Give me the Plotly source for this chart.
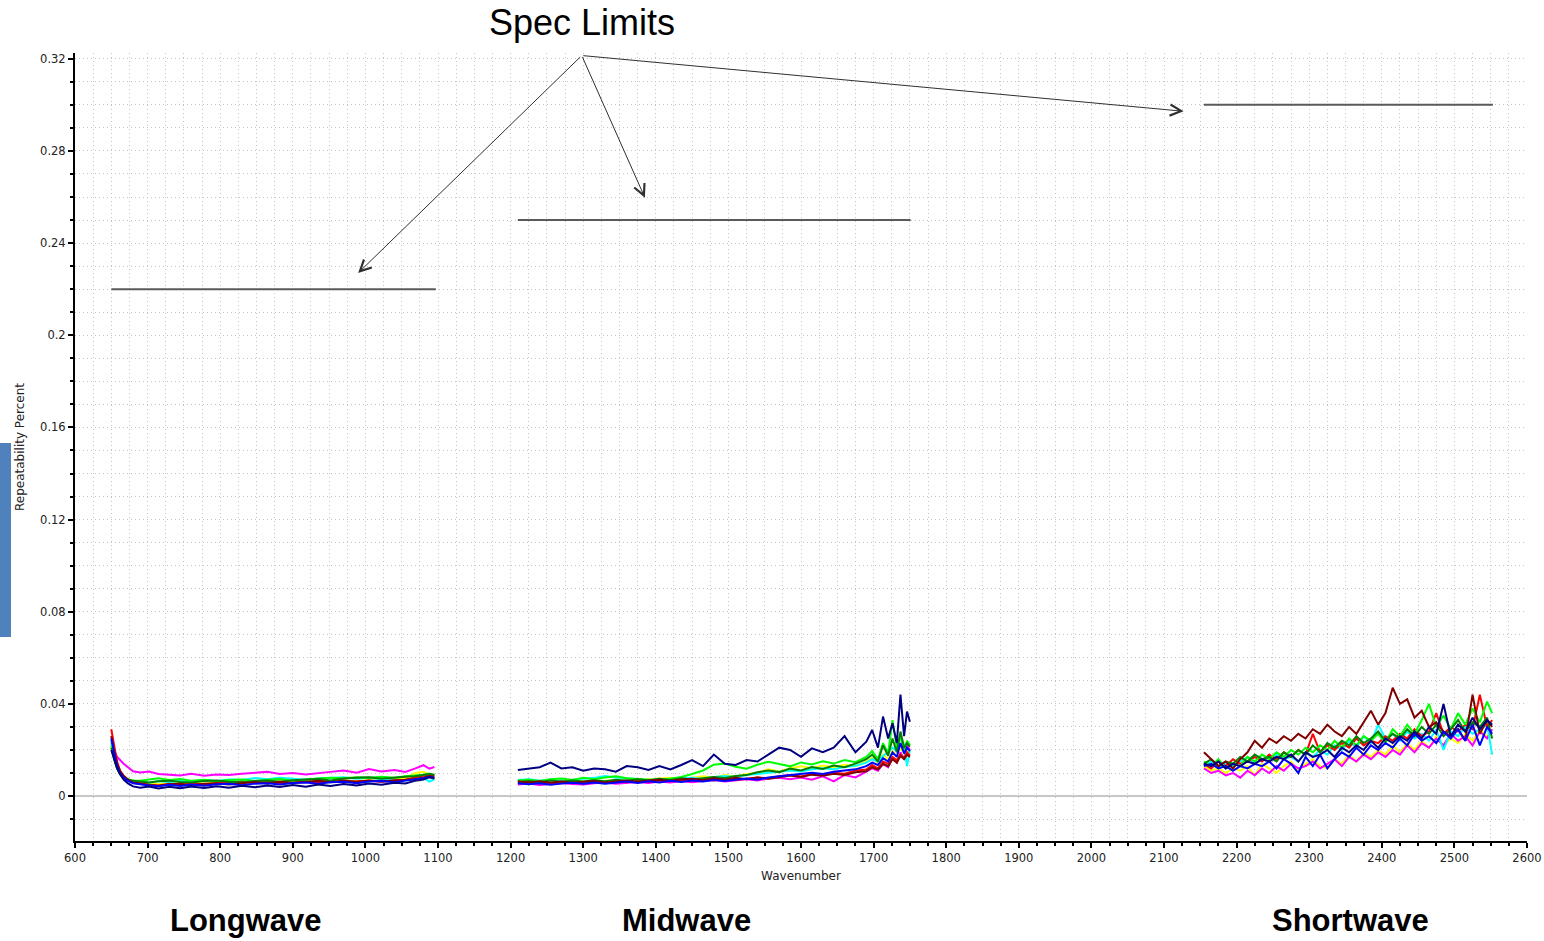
import plotly.graph_objects as go

# ---------------- data ----------------
LW_X = [650, 652, 655, 658, 662, 667, 673, 680, 690, 702, 715, 730, 745, 760, 778, 795, 812, 830,
        848, 865, 882, 900, 918, 935, 952, 970, 988, 1005, 1022, 1040, 1055, 1068, 1080, 1088, 1095]
MW_X = [1210, 1225, 1240, 1255, 1270, 1285, 1300, 1315, 1330, 1345, 1360, 1375, 1390, 1405, 1420,
        1435, 1450, 1465, 1480, 1495, 1510, 1525, 1540, 1555, 1570, 1585, 1600, 1615, 1630, 1645,
        1660, 1675, 1690, 1698, 1706, 1713, 1720, 1726, 1732, 1737, 1742, 1746, 1750]
SW_X = [2155, 2165, 2175, 2185, 2195, 2205, 2215, 2225, 2235, 2245, 2255, 2265, 2275, 2285, 2295,
        2305, 2315, 2325, 2335, 2345, 2355, 2365, 2375, 2385, 2395, 2405, 2415, 2425, 2435, 2445,
        2455, 2465, 2475, 2485, 2495, 2505, 2515, 2525, 2535, 2545, 2552]

# Longwave
LW_MAGENTA = [0.023, 0.021, 0.019, 0.017, 0.0155, 0.014, 0.0125, 0.0108, 0.0102, 0.0107, 0.0096, 0.0094,
              0.0089, 0.0097, 0.0088, 0.0094, 0.0091, 0.0097, 0.0102, 0.0105, 0.0096, 0.0100, 0.0094,
              0.0101, 0.0105, 0.0111, 0.0101, 0.0117, 0.0107, 0.0113, 0.0105, 0.0119, 0.0134, 0.0119, 0.0126]
LW_CYAN = [0.024, 0.020, 0.016, 0.013, 0.010, 0.0085, 0.0072, 0.0065, 0.0062, 0.0058, 0.0065, 0.0060,
           0.0066, 0.0064, 0.0070, 0.0065, 0.0072, 0.0070, 0.0078, 0.0073, 0.0080, 0.0074, 0.0071,
           0.0076, 0.0079, 0.0082, 0.0075, 0.0080, 0.0073, 0.0072, 0.0068, 0.0075, 0.0079, 0.0063, 0.0073]
LW_YELLOW = [0.020, 0.018, 0.015, 0.012, 0.0098, 0.0082, 0.0070, 0.0062, 0.0058, 0.0055, 0.0051, 0.0058,
             0.0053, 0.0059, 0.0054, 0.0060, 0.0062, 0.0056, 0.0063, 0.0059, 0.0064, 0.0060, 0.0065,
             0.0067, 0.0062, 0.0068, 0.0064, 0.0070, 0.0067, 0.0073, 0.0076, 0.0099, 0.0105, 0.0091, 0.0070]
LW_RED = [0.029, 0.026, 0.020, 0.015, 0.011, 0.0088, 0.0072, 0.0062, 0.0055, 0.0049, 0.0046, 0.0053,
          0.0047, 0.0054, 0.0050, 0.0056, 0.0058, 0.0063, 0.0057, 0.0062, 0.0056, 0.0061, 0.0063,
          0.0057, 0.0064, 0.0060, 0.0065, 0.0067, 0.0062, 0.0069, 0.0071, 0.0079, 0.0089, 0.0095, 0.0089]
LW_GREEN = [0.022, 0.019, 0.015, 0.012, 0.0095, 0.0080, 0.0072, 0.0068, 0.0066, 0.0072, 0.0077, 0.0070,
            0.0074, 0.0066, 0.0071, 0.0064, 0.0070, 0.0072, 0.0065, 0.0071, 0.0074, 0.0067, 0.0073,
            0.0076, 0.0079, 0.0077, 0.0082, 0.0079, 0.0084, 0.0080, 0.0086, 0.0088, 0.0093, 0.0098, 0.0090]
LW_DARKGREEN = [0.021, 0.018, 0.015, 0.012, 0.0098, 0.0082, 0.0072, 0.0066, 0.0062, 0.0059, 0.0064, 0.0067,
                0.0061, 0.0059, 0.0065, 0.0068, 0.0062, 0.0059, 0.0065, 0.0068, 0.0062, 0.0069, 0.0072,
                0.0074, 0.0068, 0.0076, 0.0079, 0.0082, 0.0075, 0.0081, 0.0084, 0.0086, 0.0092, 0.0096, 0.0093]
LW_BLUE = [0.025, 0.021, 0.017, 0.013, 0.010, 0.0080, 0.0066, 0.0056, 0.0050, 0.0046, 0.0043, 0.0049,
           0.0044, 0.0050, 0.0045, 0.0051, 0.0053, 0.0047, 0.0054, 0.0056, 0.0050, 0.0057, 0.0059,
           0.0053, 0.0060, 0.0062, 0.0056, 0.0063, 0.0065, 0.0060, 0.0067, 0.0071, 0.0077, 0.0083, 0.0080]
LW_DARKRED = [0.026, 0.022, 0.018, 0.014, 0.011, 0.0086, 0.0070, 0.0058, 0.0052, 0.0048, 0.0045, 0.0051,
              0.0053, 0.0047, 0.0054, 0.0056, 0.0050, 0.0057, 0.0061, 0.0055, 0.0062, 0.0057, 0.0063,
              0.0066, 0.0060, 0.0067, 0.0062, 0.0068, 0.0063, 0.0067, 0.0070, 0.0073, 0.0081, 0.0087, 0.0084]
LW_NAVY = [0.020, 0.018, 0.015, 0.012, 0.0095, 0.0072, 0.0055, 0.0042, 0.0036, 0.0041, 0.0033, 0.0040,
           0.0034, 0.0042, 0.0035, 0.0043, 0.0036, 0.0045, 0.0038, 0.0046, 0.0039, 0.0048, 0.0040,
           0.0050, 0.0044, 0.0052, 0.0046, 0.0055, 0.0049, 0.0058, 0.0055, 0.0066, 0.0072, 0.0082, 0.0076]

# Midwave
MW_MAGENTA = [0.0050, 0.0055, 0.0048, 0.0053, 0.0057, 0.0052, 0.0050, 0.0056, 0.0059, 0.0053,
              0.0058, 0.0061, 0.0057, 0.0063, 0.0059, 0.0065, 0.0060, 0.0067, 0.0071, 0.0063,
              0.0069, 0.0073, 0.0068, 0.0076, 0.0079, 0.0073, 0.0081, 0.0071, 0.0086, 0.0064,
              0.0091, 0.0081, 0.0106, 0.0120, 0.0110, 0.0140, 0.0125, 0.0165, 0.0145, 0.0190,
              0.0160, 0.0220, 0.0200]
MW_CYAN = [0.0070, 0.0073, 0.0067, 0.0072, 0.0065, 0.0071, 0.0075, 0.0079, 0.0087, 0.0081,
           0.0077, 0.0071, 0.0070, 0.0075, 0.0070, 0.0077, 0.0080, 0.0074, 0.0083, 0.0087,
           0.0083, 0.0091, 0.0096, 0.0101, 0.0106, 0.0111, 0.0107, 0.0116, 0.0121, 0.0116,
           0.0126, 0.0131, 0.0145, 0.0160, 0.0150, 0.0175, 0.0190, 0.0210, 0.0195, 0.0260,
           0.0220, 0.0130, 0.0200]
MW_YELLOW = [0.0058, 0.0054, 0.0061, 0.0056, 0.0063, 0.0058, 0.0064, 0.0059, 0.0066, 0.0069,
             0.0063, 0.0071, 0.0073, 0.0076, 0.0079, 0.0073, 0.0081, 0.0086, 0.0081, 0.0091,
             0.0085, 0.0096, 0.0101, 0.0116, 0.0107, 0.0121, 0.0129, 0.0121, 0.0133, 0.0125,
             0.0136, 0.0129, 0.0150, 0.0165, 0.0145, 0.0180, 0.0160, 0.0195, 0.0175, 0.0210,
             0.0185, 0.0200, 0.0190]
MW_RED = [0.0062, 0.0057, 0.0062, 0.0055, 0.0061, 0.0064, 0.0058, 0.0063, 0.0059, 0.0065,
          0.0060, 0.0067, 0.0062, 0.0069, 0.0064, 0.0071, 0.0066, 0.0073, 0.0068, 0.0075,
          0.0070, 0.0077, 0.0081, 0.0077, 0.0086, 0.0091, 0.0085, 0.0096, 0.0091, 0.0101,
          0.0097, 0.0111, 0.0115, 0.0135, 0.0120, 0.0150, 0.0140, 0.0170, 0.0155, 0.0180,
          0.0165, 0.0190, 0.0175]
MW_GREEN = [0.0068, 0.0071, 0.0065, 0.0073, 0.0076, 0.0070, 0.0079, 0.0073, 0.0081, 0.0086,
            0.0077, 0.0073, 0.0071, 0.0069, 0.0077, 0.0083, 0.0096, 0.0111, 0.0136, 0.0141,
            0.0127, 0.0119, 0.0136, 0.0149, 0.0139, 0.0129, 0.0146, 0.0137, 0.0151, 0.0141,
            0.0156, 0.0147, 0.0170, 0.0195, 0.0160, 0.0230, 0.0185, 0.0330, 0.0210, 0.0260,
            0.0200, 0.0240, 0.0220]
MW_DARKGREEN = [0.0060, 0.0065, 0.0060, 0.0067, 0.0062, 0.0068, 0.0063, 0.0069, 0.0064, 0.0071,
                0.0066, 0.0073, 0.0068, 0.0075, 0.0070, 0.0077, 0.0072, 0.0079, 0.0083, 0.0078,
                0.0087, 0.0091, 0.0103, 0.0111, 0.0104, 0.0119, 0.0111, 0.0126, 0.0118, 0.0133,
                0.0125, 0.0141, 0.0160, 0.0180, 0.0150, 0.0220, 0.0175, 0.0250, 0.0190, 0.0280,
                0.0210, 0.0230, 0.0215]
MW_BLUE = [0.0056, 0.0051, 0.0056, 0.0049, 0.0054, 0.0058, 0.0053, 0.0059, 0.0054, 0.0060,
           0.0063, 0.0057, 0.0064, 0.0059, 0.0066, 0.0061, 0.0068, 0.0063, 0.0070, 0.0065,
           0.0072, 0.0076, 0.0071, 0.0081, 0.0086, 0.0091, 0.0096, 0.0101, 0.0096, 0.0106,
           0.0111, 0.0116, 0.0130, 0.0145, 0.0135, 0.0165, 0.0150, 0.0190, 0.0170, 0.0230,
           0.0185, 0.0210, 0.0195]
MW_DARKRED = [0.0064, 0.0059, 0.0064, 0.0058, 0.0063, 0.0057, 0.0062, 0.0065, 0.0059, 0.0064,
              0.0067, 0.0061, 0.0068, 0.0071, 0.0065, 0.0072, 0.0075, 0.0069, 0.0077, 0.0071,
              0.0079, 0.0073, 0.0081, 0.0075, 0.0083, 0.0089, 0.0083, 0.0093, 0.0088, 0.0097,
              0.0092, 0.0103, 0.0108, 0.0125, 0.0115, 0.0140, 0.0130, 0.0160, 0.0145, 0.0175,
              0.0160, 0.0180, 0.0170]
MW_NAVY = [0.0113, 0.0120, 0.0125, 0.0145, 0.0120, 0.0125, 0.0110, 0.0120, 0.0116, 0.0106,
           0.0130, 0.0125, 0.0113, 0.0130, 0.0116, 0.0135, 0.0156, 0.0130, 0.0180, 0.0140,
           0.0135, 0.0156, 0.0150, 0.0180, 0.0210, 0.0200, 0.0170, 0.0207, 0.0190, 0.0210,
           0.0260, 0.0190, 0.0236, 0.0287, 0.0210, 0.0345, 0.0250, 0.0316, 0.0230, 0.0440,
           0.0260, 0.0367, 0.0323]

# Shortwave
SW_MAGENTA = [0.012, 0.010, 0.011, 0.009, 0.010, 0.008, 0.011, 0.009, 0.012, 0.010,
              0.013, 0.011, 0.014, 0.012, 0.013, 0.015, 0.012, 0.014, 0.016, 0.013,
              0.017, 0.015, 0.018, 0.016, 0.019, 0.017, 0.020, 0.018, 0.022, 0.019,
              0.023, 0.021, 0.025, 0.022, 0.027, 0.024, 0.026, 0.022, 0.028, 0.025, 0.029]
SW_CYAN = [0.013, 0.015, 0.012, 0.014, 0.013, 0.015, 0.017, 0.014, 0.016, 0.015,
           0.018, 0.016, 0.017, 0.015, 0.019, 0.017, 0.020, 0.018, 0.022, 0.020,
           0.024, 0.021, 0.026, 0.023, 0.031, 0.025, 0.027, 0.024, 0.028, 0.025,
           0.027, 0.024, 0.029, 0.020, 0.028, 0.026, 0.030, 0.027, 0.029, 0.031, 0.018]
SW_YELLOW = [0.013, 0.011, 0.012, 0.010, 0.012, 0.011, 0.013, 0.009, 0.014, 0.012,
             0.010, 0.013, 0.015, 0.011, 0.014, 0.016, 0.013, 0.012, 0.016, 0.014,
             0.018, 0.015, 0.019, 0.017, 0.020, 0.018, 0.022, 0.019, 0.023, 0.020,
             0.024, 0.021, 0.026, 0.022, 0.025, 0.023, 0.027, 0.024, 0.029, 0.026, 0.028]
SW_RED = [0.014, 0.012, 0.015, 0.013, 0.016, 0.014, 0.015, 0.017, 0.015, 0.018,
          0.016, 0.019, 0.017, 0.020, 0.018, 0.027, 0.019, 0.022, 0.020, 0.023,
          0.021, 0.025, 0.022, 0.024, 0.023, 0.026, 0.024, 0.027, 0.025, 0.029,
          0.026, 0.028, 0.036, 0.027, 0.030, 0.028, 0.031, 0.029, 0.044, 0.030, 0.033]
SW_GREEN = [0.015, 0.013, 0.016, 0.012, 0.014, 0.013, 0.017, 0.015, 0.018, 0.016,
            0.019, 0.017, 0.020, 0.018, 0.021, 0.019, 0.022, 0.020, 0.024, 0.021,
            0.025, 0.022, 0.026, 0.024, 0.027, 0.023, 0.029, 0.026, 0.031, 0.027,
            0.033, 0.040, 0.030, 0.035, 0.029, 0.036, 0.031, 0.038, 0.032, 0.041, 0.036]
SW_DARKGREEN = [0.014, 0.016, 0.013, 0.015, 0.014, 0.017, 0.015, 0.018, 0.016, 0.017,
                0.015, 0.019, 0.017, 0.020, 0.018, 0.022, 0.019, 0.023, 0.021, 0.024,
                0.022, 0.026, 0.023, 0.025, 0.028, 0.024, 0.027, 0.025, 0.029, 0.026,
                0.030, 0.027, 0.031, 0.026, 0.029, 0.033, 0.028, 0.032, 0.030, 0.034, 0.025]
SW_BLUE = [0.013, 0.014, 0.012, 0.013, 0.011, 0.013, 0.012, 0.014, 0.013, 0.015,
           0.012, 0.016, 0.014, 0.010, 0.017, 0.013, 0.018, 0.012, 0.016, 0.019,
           0.017, 0.021, 0.018, 0.022, 0.020, 0.023, 0.021, 0.025, 0.022, 0.027,
           0.024, 0.026, 0.023, 0.028, 0.025, 0.029, 0.024, 0.031, 0.022, 0.030, 0.027]
SW_DARKRED = [0.019, 0.016, 0.013, 0.015, 0.012, 0.016, 0.019, 0.024, 0.021, 0.025,
              0.023, 0.026, 0.024, 0.027, 0.025, 0.029, 0.027, 0.031, 0.028, 0.026,
              0.030, 0.027, 0.032, 0.037, 0.031, 0.036, 0.047, 0.040, 0.042, 0.034,
              0.037, 0.030, 0.032, 0.028, 0.026, 0.029, 0.024, 0.044, 0.027, 0.033, 0.030]
SW_NAVY = [0.014, 0.013, 0.015, 0.012, 0.014, 0.013, 0.015, 0.014, 0.016, 0.015,
           0.017, 0.016, 0.018, 0.015, 0.019, 0.017, 0.018, 0.020, 0.017, 0.021,
           0.019, 0.022, 0.020, 0.024, 0.021, 0.025, 0.023, 0.026, 0.024, 0.028,
           0.025, 0.030, 0.027, 0.040, 0.026, 0.031, 0.028, 0.034, 0.029, 0.033, 0.031]

SERIES_COLORS = ["#ffff00", "#ff00ff", "#00ffff", "#ff0000", "#00ff00",
                 "#008000", "#800000", "#0000ff", "#000080"]
SERIES_LW = [LW_YELLOW, LW_MAGENTA, LW_CYAN, LW_RED, LW_GREEN, LW_DARKGREEN, LW_DARKRED, LW_BLUE, LW_NAVY]
SERIES_MW = [MW_YELLOW, MW_MAGENTA, MW_CYAN, MW_RED, MW_GREEN, MW_DARKGREEN, MW_DARKRED, MW_BLUE, MW_NAVY]
SERIES_SW = [SW_YELLOW, SW_MAGENTA, SW_CYAN, SW_RED, SW_GREEN, SW_DARKGREEN, SW_DARKRED, SW_BLUE, SW_NAVY]

SPEC_X0 = [650, 1210, 2155]
SPEC_X1 = [1097, 1751, 2553]
SPEC_Y = [0.22, 0.25, 0.30]

BAND_LABELS = ["Longwave", "Midwave", "Shortwave"]

# arrows: common tail and the three heads
ARROW_TAIL = (1298, 0.3214)
ARROW_HEADS_X = [990, 1385, 2127]
ARROW_HEADS_Y = [0.2270, 0.2597, 0.2972]

# ---------------- figure ----------------
fig = go.Figure()

for lw, mw, sw, col in zip(SERIES_LW, SERIES_MW, SERIES_SW, SERIES_COLORS):
    xs = LW_X + [None] + MW_X + [None] + SW_X
    ys = lw + [None] + mw + [None] + sw
    fig.add_trace(go.Scatter(x=xs, y=ys, mode="lines", line=dict(color=col, width=2),
                             connectgaps=False, showlegend=False, hoverinfo="skip"))

for x0, x1, y in zip(SPEC_X0, SPEC_X1, SPEC_Y):
    fig.add_trace(go.Scatter(x=[x0, x1], y=[y, y], mode="lines",
                             line=dict(color="#5a5a5a", width=2), showlegend=False))

annotations = []
for hx, hy in zip(ARROW_HEADS_X, ARROW_HEADS_Y):
    annotations.append(dict(x=hx, y=hy, xref="x", yref="y", ax=ARROW_TAIL[0], ay=ARROW_TAIL[1],
                            axref="x", ayref="y", text="", showarrow=True, arrowhead=5,
                            arrowsize=2.2, arrowwidth=1, arrowcolor="#303030", standoff=0))

annotations.append(dict(x=(582 - 75) / 1452, y=1.0393, xref="paper", yref="paper",
                        text="Spec Limits", showarrow=False, xanchor="center", yanchor="middle",
                        font=dict(family="Liberation Sans, Arial", size=36, color="black")))

for lab, px in zip(BAND_LABELS, [246, 686, 1350]):
    annotations.append(dict(x=(px - 75) / 1452, y=-0.1015, xref="paper", yref="paper",
                            text="<b>" + lab + "</b>", showarrow=False, xanchor="center",
                            yanchor="middle",
                            font=dict(family="Liberation Sans, Arial", size=31, color="black")))

tick_font = dict(family="DejaVu Sans", size=11.5, color="#222222")
GRID = "#c4c4c4"
GDASH = "1px,3px"

fig.update_layout(
    width=1544, height=941,
    margin=dict(l=75, r=17, t=53, b=100, autoexpand=False),
    paper_bgcolor="white", plot_bgcolor="white",
    showlegend=False,
    annotations=annotations,
    shapes=[dict(type="rect", xref="paper", yref="paper",
                 x0=-75 / 1452, x1=(11 - 75) / 1452,
                 y0=(841 - 637) / 788, y1=(841 - 443) / 788,
                 fillcolor="#4f81bd", line=dict(width=0), layer="above")],
    xaxis=dict(range=[600, 2600], dtick=100, tick0=600, showline=True, linecolor="black",
               linewidth=2, ticks="outside", ticklen=5, tickwidth=1.5, tickcolor="black",
               tickfont=tick_font, showgrid=True, gridcolor=GRID, griddash=GDASH,
               gridwidth=1, zeroline=False,
               minor=dict(dtick=25, ticks="outside", ticklen=3, tickcolor="black",
                          showgrid=True, gridcolor=GRID, griddash=GDASH, gridwidth=1),
               title=dict(text="Wavenumber", font=dict(family="DejaVu Sans", size=12, color="#222222"),
                          standoff=8)),
    yaxis=dict(range=[-0.0195, 0.3225], dtick=0.04, tick0=0, showline=True, linecolor="black",
               linewidth=2, ticks="outside", ticklen=5, tickwidth=1.5, tickcolor="black",
               tickfont=tick_font, showgrid=True, gridcolor=GRID, griddash=GDASH,
               gridwidth=1, zeroline=True, zerolinecolor="#c8c8c8", zerolinewidth=2,
               minor=dict(dtick=0.01, ticks="outside", ticklen=3, tickcolor="black",
                          showgrid=True, gridcolor=GRID, griddash=GDASH, gridwidth=1),
               title=dict(text="Repeatability Percent",
                          font=dict(family="DejaVu Sans", size=12, color="#222222"), standoff=13)),
)

fig.write_html("out.html")
